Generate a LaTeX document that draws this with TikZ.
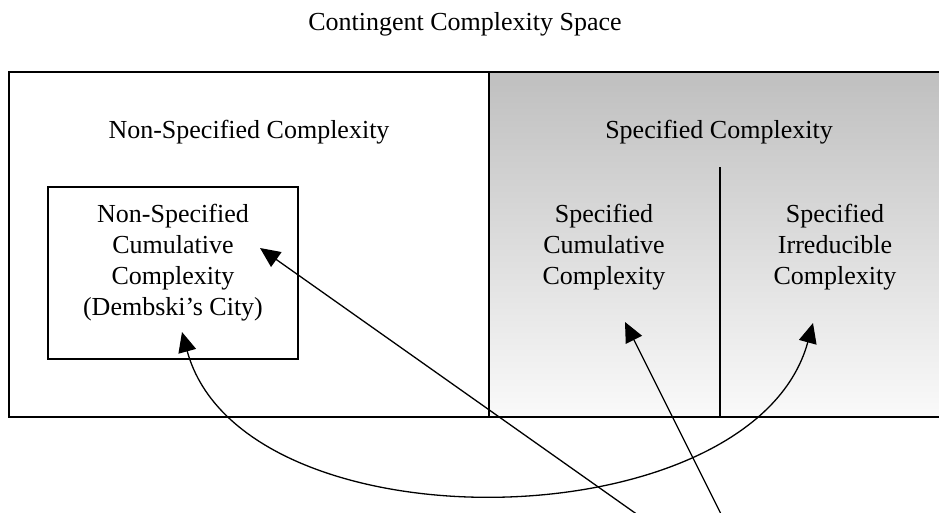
\documentclass[tikz,border=0pt]{standalone}
\usepackage{fontspec}
\setmainfont{Liberation Serif}
\usetikzlibrary{arrows.meta}
\begin{document}
\begin{tikzpicture}[x=1pt,y=-1pt,
  txt/.style={font=\fontsize{26}{31}\selectfont, inner sep=0pt, align=center},
  boxline/.style={line width=1.6pt},
  conn/.style={line width=1.3pt, -{Triangle[length=20pt,width=18pt]}},
  conn2/.style={line width=1.3pt, {Triangle[length=20pt,width=18pt]}-{Triangle[length=20pt,width=18pt]}}]
\useasboundingbox (0,0) rectangle (939,512);
\clip (0,0) rectangle (939,512);
\fill[white] (0,0) rectangle (939,512);
% shaded right region
\shade[top color=black!25, bottom color=white!98!black] (489,72) rectangle (950,417);
% outer box
\draw[boxline] (9,72) rectangle (950,417);
\draw[boxline] (489,72) -- (489,417);
\draw[boxline] (720,167) -- (720,417);
% inner box
\node[boxline, draw, minimum width=250pt, minimum height=172pt, inner sep=0pt] (nscc) at (173,273) {};
% texts
\node[txt, anchor=base] (title) at (465,30) {Contingent Complexity Space};
\node[txt, anchor=base] (nsc) at (249,138) {Non-Specified Complexity};
\node[txt, anchor=base] (sc) at (719,138) {Specified Complexity};
\node[txt] (nscctext) at (173,263) {Non-Specified\\Cumulative\\Complexity\\(Dembski’s City)};
\node[txt] (scc) at (604,247) {Specified\\Cumulative\\Complexity};
\node[txt] (sic) at (835,247) {Specified\\Irreducible\\Complexity};
% arrow ends
\coordinate (tipA) at (260,248);
\coordinate (tipB) at (625,322);
\coordinate (tipL) at (182,332);
\coordinate (tipR) at (813,323);
\coordinate (srcA) at (645,520);
\coordinate (srcB) at (724,520);
% connectors
\draw[conn] (srcA) -- (tipA);
\draw[conn] (srcB) -- (tipB);
\draw[conn2] (tipL) .. controls (242,552) and (753,543) .. (tipR);
\end{tikzpicture}
\end{document}
